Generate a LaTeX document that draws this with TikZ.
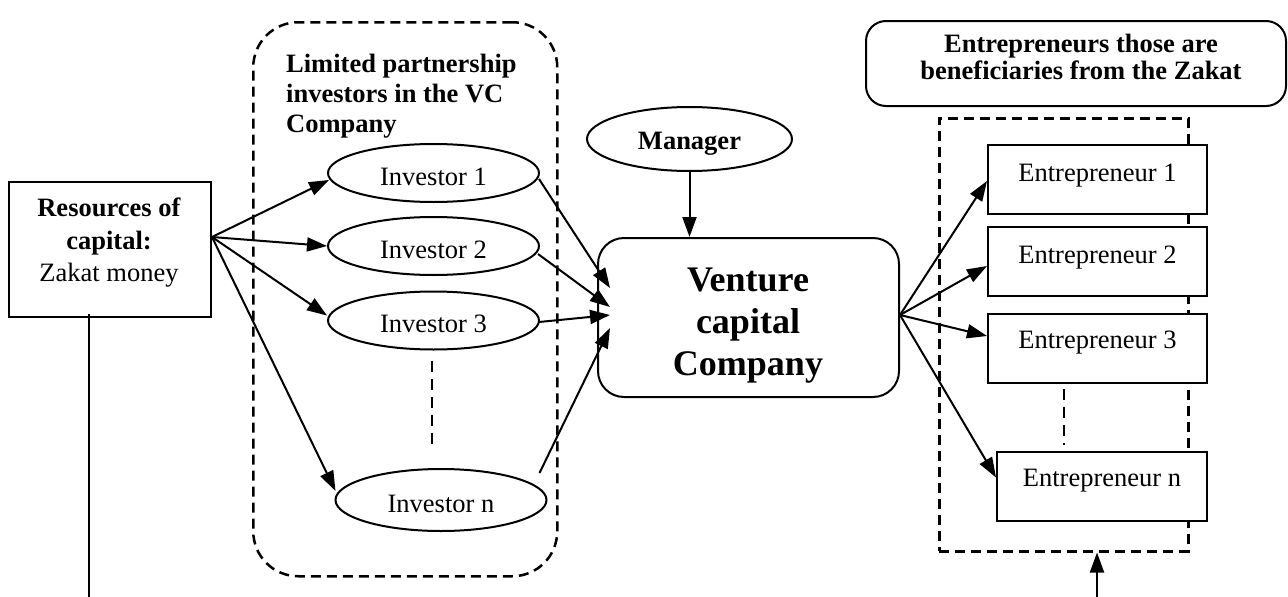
\documentclass[tikz,border=0pt]{standalone}
\usepackage{fontspec}
\setmainfont{Liberation Serif}
\usetikzlibrary{arrows.meta,calc,shapes.geometric}
\begin{document}
\begin{tikzpicture}[x=1pt,y=-1pt,
  every node/.style={font=\fontsize{26.5}{32.5}\selectfont, inner sep=0pt},
  ln/.style={line width=2pt},
  arr/.style={line width=2pt, -{Triangle[length=20pt,width=14pt]}},
  dashbox/.style={draw, line width=2.5pt, dash pattern=on 10pt off 6pt},
  innerdash/.style={line width=2.5pt, dash pattern=on 11pt off 7pt},
  invnode/.style={draw, fill=white, ellipse, line width=2pt, minimum width=211pt, minimum height=58pt, text height=24.5pt, text depth=0pt},
  entbox/.style={draw, fill=white, rectangle, line width=2pt, minimum width=219pt, minimum height=69pt, anchor=north west},
  enttext/.style={font=\fontsize{26.5}{32.5}\selectfont},
  hdr/.style={align=center, font=\bfseries\fontsize{26.5}{27.5}\selectfont}
]
\useasboundingbox (0,0) rectangle (1288,597);

% group frames
\node[dashbox, rounded corners=45pt, minimum width=304pt, minimum height=554pt, anchor=north west] (grp) at (252,21) {};
\node[dashbox, minimum width=249pt, minimum height=433pt, anchor=north west] (entgrp) at (938,117) {};

% heading of investors group
\node[align=left, anchor=west, font=\bfseries\fontsize{26.5}{30}\selectfont] (grpt) at (286,96) {Limited partnership\\investors in the VC\\Company};

% source box
\node[draw, ln, minimum width=202pt, minimum height=135pt, anchor=north west] (src) at (8,181) {};
\node[align=center] (srct) at (109,243) {\textbf{Resources of}\\\textbf{capital:}\\Zakat money};

% investors
\node[invnode] (inv1) at (433.5,173) {Investor 1};
\node[invnode] (inv2) at (433.5,246) {Investor 2};
\node[invnode] (inv3) at (433.5,320.5) {Investor 3};
\node[invnode, minimum height=62pt] (invn) at (441,500) {Investor n};

% manager
\node[draw, ellipse, ln, minimum width=205pt, minimum height=64pt, text height=26pt, text depth=5pt, font=\bfseries\fontsize{26.5}{32.5}\selectfont] (mgr) at (689.5,139) {Manager};

% venture capital company
\node[draw, ln, rounded corners=26pt, minimum width=301pt, minimum height=159pt, anchor=north west] (vc) at (597,237) {};
\node[align=center, font=\bfseries\fontsize{36}{42}\selectfont] (vct) at (748,326) {Venture\\capital\\Company};

% entrepreneurs header
\node[draw, ln, rounded corners=20pt, minimum width=420pt, minimum height=85pt, anchor=north west] (hdrbox) at (865,20) {};
\node[hdr] (hdrt) at (1081,57) {Entrepreneurs those are\\beneficiaries from the Zakat};

% entrepreneurs
\node[entbox] (e1) at (987,144) {};
\node[entbox] (e2) at (987,226) {};
\node[entbox] (e3) at (987,313) {};
\node[entbox, minimum width=210pt] (en) at (996,451) {};
\node[enttext] (e1t) at ([yshift=4pt]e1.center) {Entrepreneur 1};
\node[enttext] (e2t) at ([yshift=4pt]e2.center) {Entrepreneur 2};
\node[enttext] (e3t) at ([yshift=6pt]e3.center) {Entrepreneur 3};
\node[enttext] (ent) at ([yshift=6pt]en.center) {Entrepreneur n};

% continuation marks
\draw[innerdash] ($(inv3.south)+(-1.5,10)$) -- ($(inv3.south)+(-1.5,93)$);
\draw[innerdash] ($(e3.south west)+(77,5)$) -- ($(e3.south west)+(77,61)$);

% source to investors
\coordinate (srcout) at ($(src.north east)+(0,56)$);
\draw[arr] (srcout) -- ($(inv1.west)+(2,7)$);
\draw[arr] (srcout) -- (inv2.west);
\draw[arr] (srcout) -- ($(inv3.west)+(0,-5)$);
\draw[arr] (srcout) -- ($(invn.west)+(1,-9)$);

% investors to VC
\draw[arr] ($(inv1.east)+(-1,6)$) -- ($(vc.north west)+(13,51)$);
\draw[arr] ($(inv2.east)+(-2,8)$) -- ($(vc.north west)+(13,70)$);
\draw[arr] ($(inv3.east)+(-1,1.5)$) -- ($(vc.north west)+(13,78)$);
\draw[arr] ($(invn.east)+(-8,-27)$) -- ($(vc.north west)+(13,91)$);

% manager to VC
\draw[arr] (mgr.south) -- (mgr.south |- vc.north);

% VC to entrepreneurs
\coordinate (vcout) at ($(vc.north east)+(0,78)$);
\draw[arr] (vcout) -- ($(e1.west)+(0,1.5)$);
\draw[arr] (vcout) -- ($(e2.west)+(0,4.5)$);
\draw[arr] (vcout) -- ($(e3.west)+(0,-12.5)$);
\draw[arr] (vcout) -- ($(en.west)+(0,-9)$);

% bottom connectors
\coordinate (srcend) at (89,597);
\draw[ln] ($(src.south west)+(81,-4)$) -- (srcend);
\coordinate (entin) at (1097,597);
\draw[arr] (entin) -- (entin |- entgrp.south);
\end{tikzpicture}
\end{document}
